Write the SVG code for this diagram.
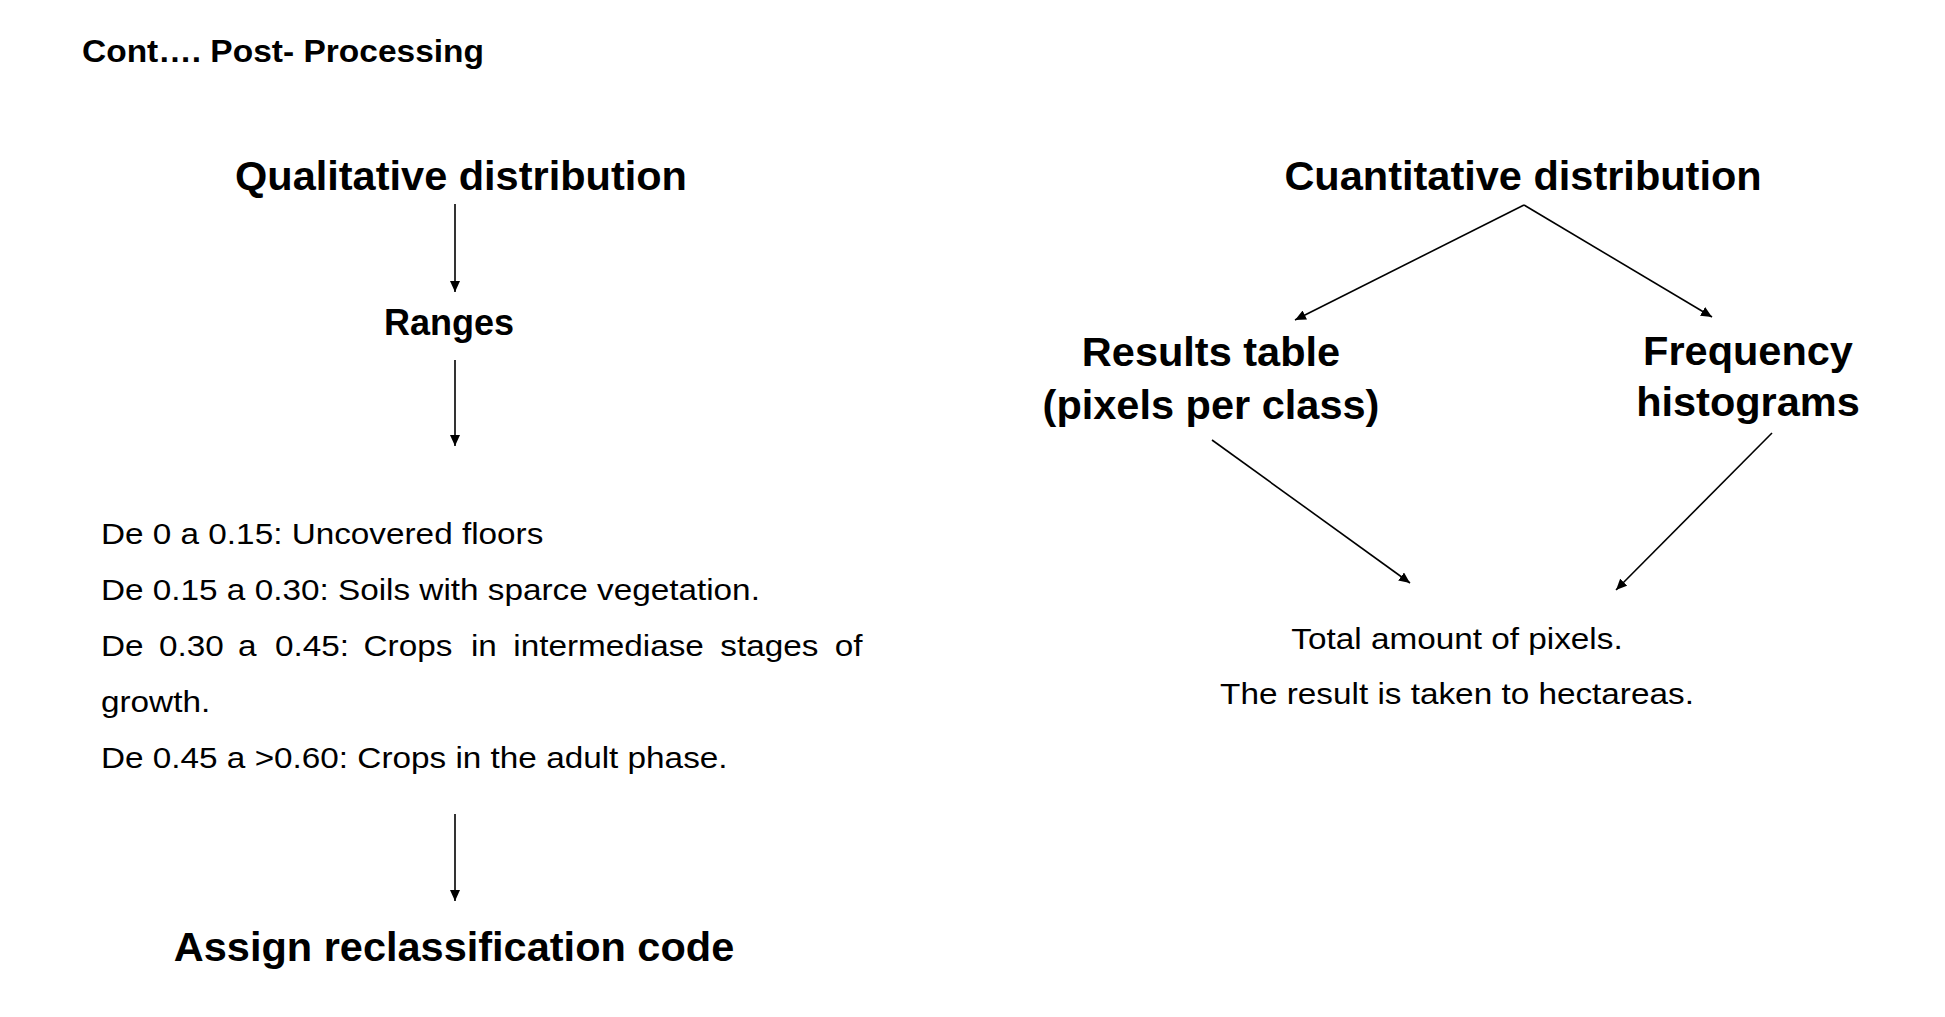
<svg xmlns="http://www.w3.org/2000/svg" width="1945" height="1017" viewBox="0 0 1945 1017">
<defs>
<marker id="ah" markerUnits="userSpaceOnUse" markerWidth="12" markerHeight="10" refX="11" refY="5" orient="auto">
<path d="M0,0 L11,5 L0,10 z" fill="#000"/>
</marker>
<style>
.h{font-family:"Liberation Sans",Arial,sans-serif;font-weight:bold;fill:#000;}
.r{font-family:"Liberation Sans",Arial,sans-serif;font-size:30px;fill:#000;}
.c{stroke:#000;stroke-width:1.6;fill:none;marker-end:url(#ah);}
</style>
</defs>
<rect width="1945" height="1017" fill="#fff"/>
<g id="title"><text class="h" x="82" y="62" font-size="31" textLength="402" lengthAdjust="spacingAndGlyphs">Cont…. Post- Processing</text></g>
<g id="qualitative"><text class="h" x="461" y="190" font-size="41.5" text-anchor="middle">Qualitative distribution</text></g>
<g id="ranges"><text class="h" x="449" y="335" font-size="36" text-anchor="middle">Ranges</text></g>
<g id="range-list" transform="translate(101,0) scale(1.11,1)">
<text class="r" x="0" y="544">De 0 a 0.15: Uncovered floors</text>
<text class="r" x="0" y="600">De 0.15 a 0.30: Soils with sparce vegetation.</text>
<text class="r" y="656"><tspan x="0">De</tspan><tspan x="52.2">0.30</tspan><tspan x="123.5">a</tspan><tspan x="156.8">0.45:</tspan><tspan x="236.5">Crops</tspan><tspan x="333.3">in</tspan><tspan x="371.4">intermediase</tspan><tspan x="558">stages</tspan><tspan x="661">of</tspan></text>
<text class="r" x="0" y="712">growth.</text>
<text class="r" x="0" y="768">De 0.45 a &gt;0.60: Crops in the adult phase.</text>
</g>
<g id="assign"><text class="h" x="454" y="961" font-size="41.5" text-anchor="middle">Assign reclassification code</text></g>
<g id="cuantitative"><text class="h" x="1523" y="190" font-size="41.5" text-anchor="middle">Cuantitative distribution</text></g>
<g id="results-table"><text class="h" font-size="41.5" text-anchor="middle"><tspan x="1211" y="366">Results table</tspan><tspan x="1211" y="419">(pixels per class)</tspan></text></g>
<g id="frequency"><text class="h" font-size="41.5" text-anchor="middle"><tspan x="1748" y="365">Frequency</tspan><tspan x="1748" y="416">histograms</tspan></text></g>
<g id="total" transform="translate(1457,0) scale(1.11,1)">
<text class="r" x="0" y="649" text-anchor="middle">Total amount of pixels.</text>
<text class="r" x="0" y="704" text-anchor="middle">The result is taken to hectareas.</text>
</g>
<g id="connectors">
<line class="c" x1="455" y1="204" x2="455" y2="292"/>
<line class="c" x1="455" y1="360" x2="455" y2="446"/>
<line class="c" x1="455" y1="814" x2="455" y2="901"/>
<line class="c" x1="1524" y1="205" x2="1295" y2="320"/>
<line class="c" x1="1524" y1="205" x2="1712" y2="317"/>
<line class="c" x1="1212" y1="440" x2="1410" y2="583"/>
<line class="c" x1="1772" y1="433" x2="1616" y2="590"/>
</g>
</svg>
